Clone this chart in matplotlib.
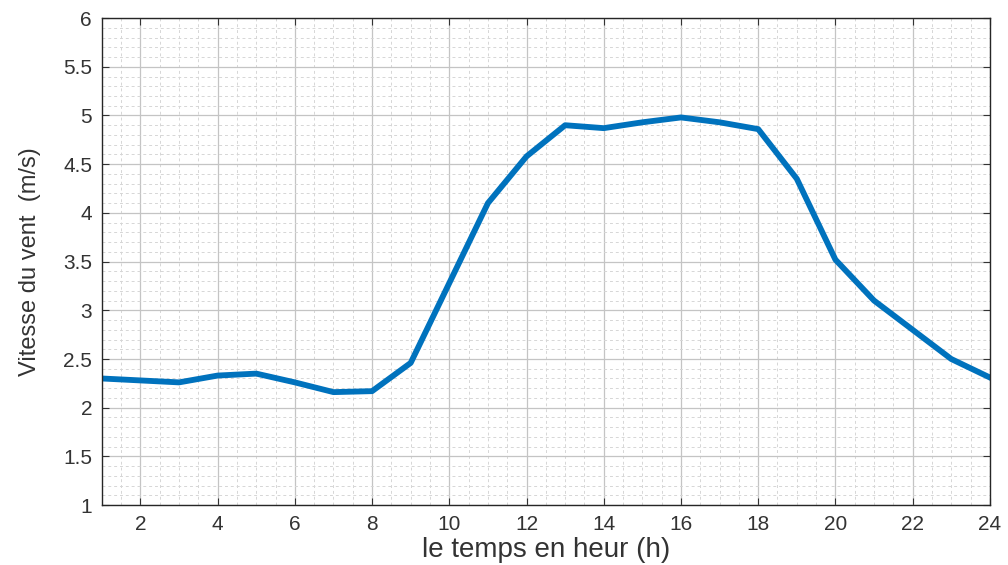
import numpy as np
import matplotlib
matplotlib.use("Agg")
import matplotlib.pyplot as plt
from matplotlib.ticker import MultipleLocator

plt.rcParams['font.family'] = ['Liberation Sans', 'DejaVu Sans']

# wind speed per hour
hours = list(range(1, 25))
speed = [2.30, 2.28, 2.26, 2.33, 2.35, 2.26, 2.16, 2.17, 2.46, 3.28,
         4.10, 4.58, 4.90, 4.87, 4.93, 4.98, 4.93, 4.86, 4.35, 3.52,
         3.10, 2.80, 2.50, 2.31]

fig = plt.figure(figsize=(10.08, 5.65), dpi=100)
ax = fig.add_axes([0.101, 0.106, 0.881, 0.862])

ax.plot(hours, speed, color='#0072BD', lw=4.2, solid_joinstyle='round')

ax.set_xlim(1, 24)
ax.set_ylim(1, 6)
ax.xaxis.set_major_locator(MultipleLocator(2))
ax.xaxis.set_minor_locator(MultipleLocator(0.5))
ax.yaxis.set_minor_locator(MultipleLocator(0.1))
ax.set_yticks(np.arange(1, 6.01, 0.5))
ax.set_yticklabels(['1', '1.5', '2', '2.5', '3', '3.5', '4', '4.5', '5', '5.5', '6'])

ax.grid(which='major', color='#c4c4c4', lw=0.9, ls='-')
ax.grid(which='minor', color='#d6d6d6', lw=0.7, ls=(0, (3, 3)))
ax.set_axisbelow(True)

ax.tick_params(which='major', direction='in', length=5, top=True, right=True,
               labelsize=15, colors='#333333', pad=7)
ax.tick_params(which='minor', length=0)
for s in ax.spines.values():
    s.set_color('#262626')
    s.set_linewidth(1.0)

ax.set_xlabel('le temps en heur (h)', fontsize=20, color='#333333', labelpad=2)
ax.set_ylabel('Vitesse du vent  (m/s)', fontsize=17, color='#333333', labelpad=16)

fig.savefig('out.png', dpi=100)
